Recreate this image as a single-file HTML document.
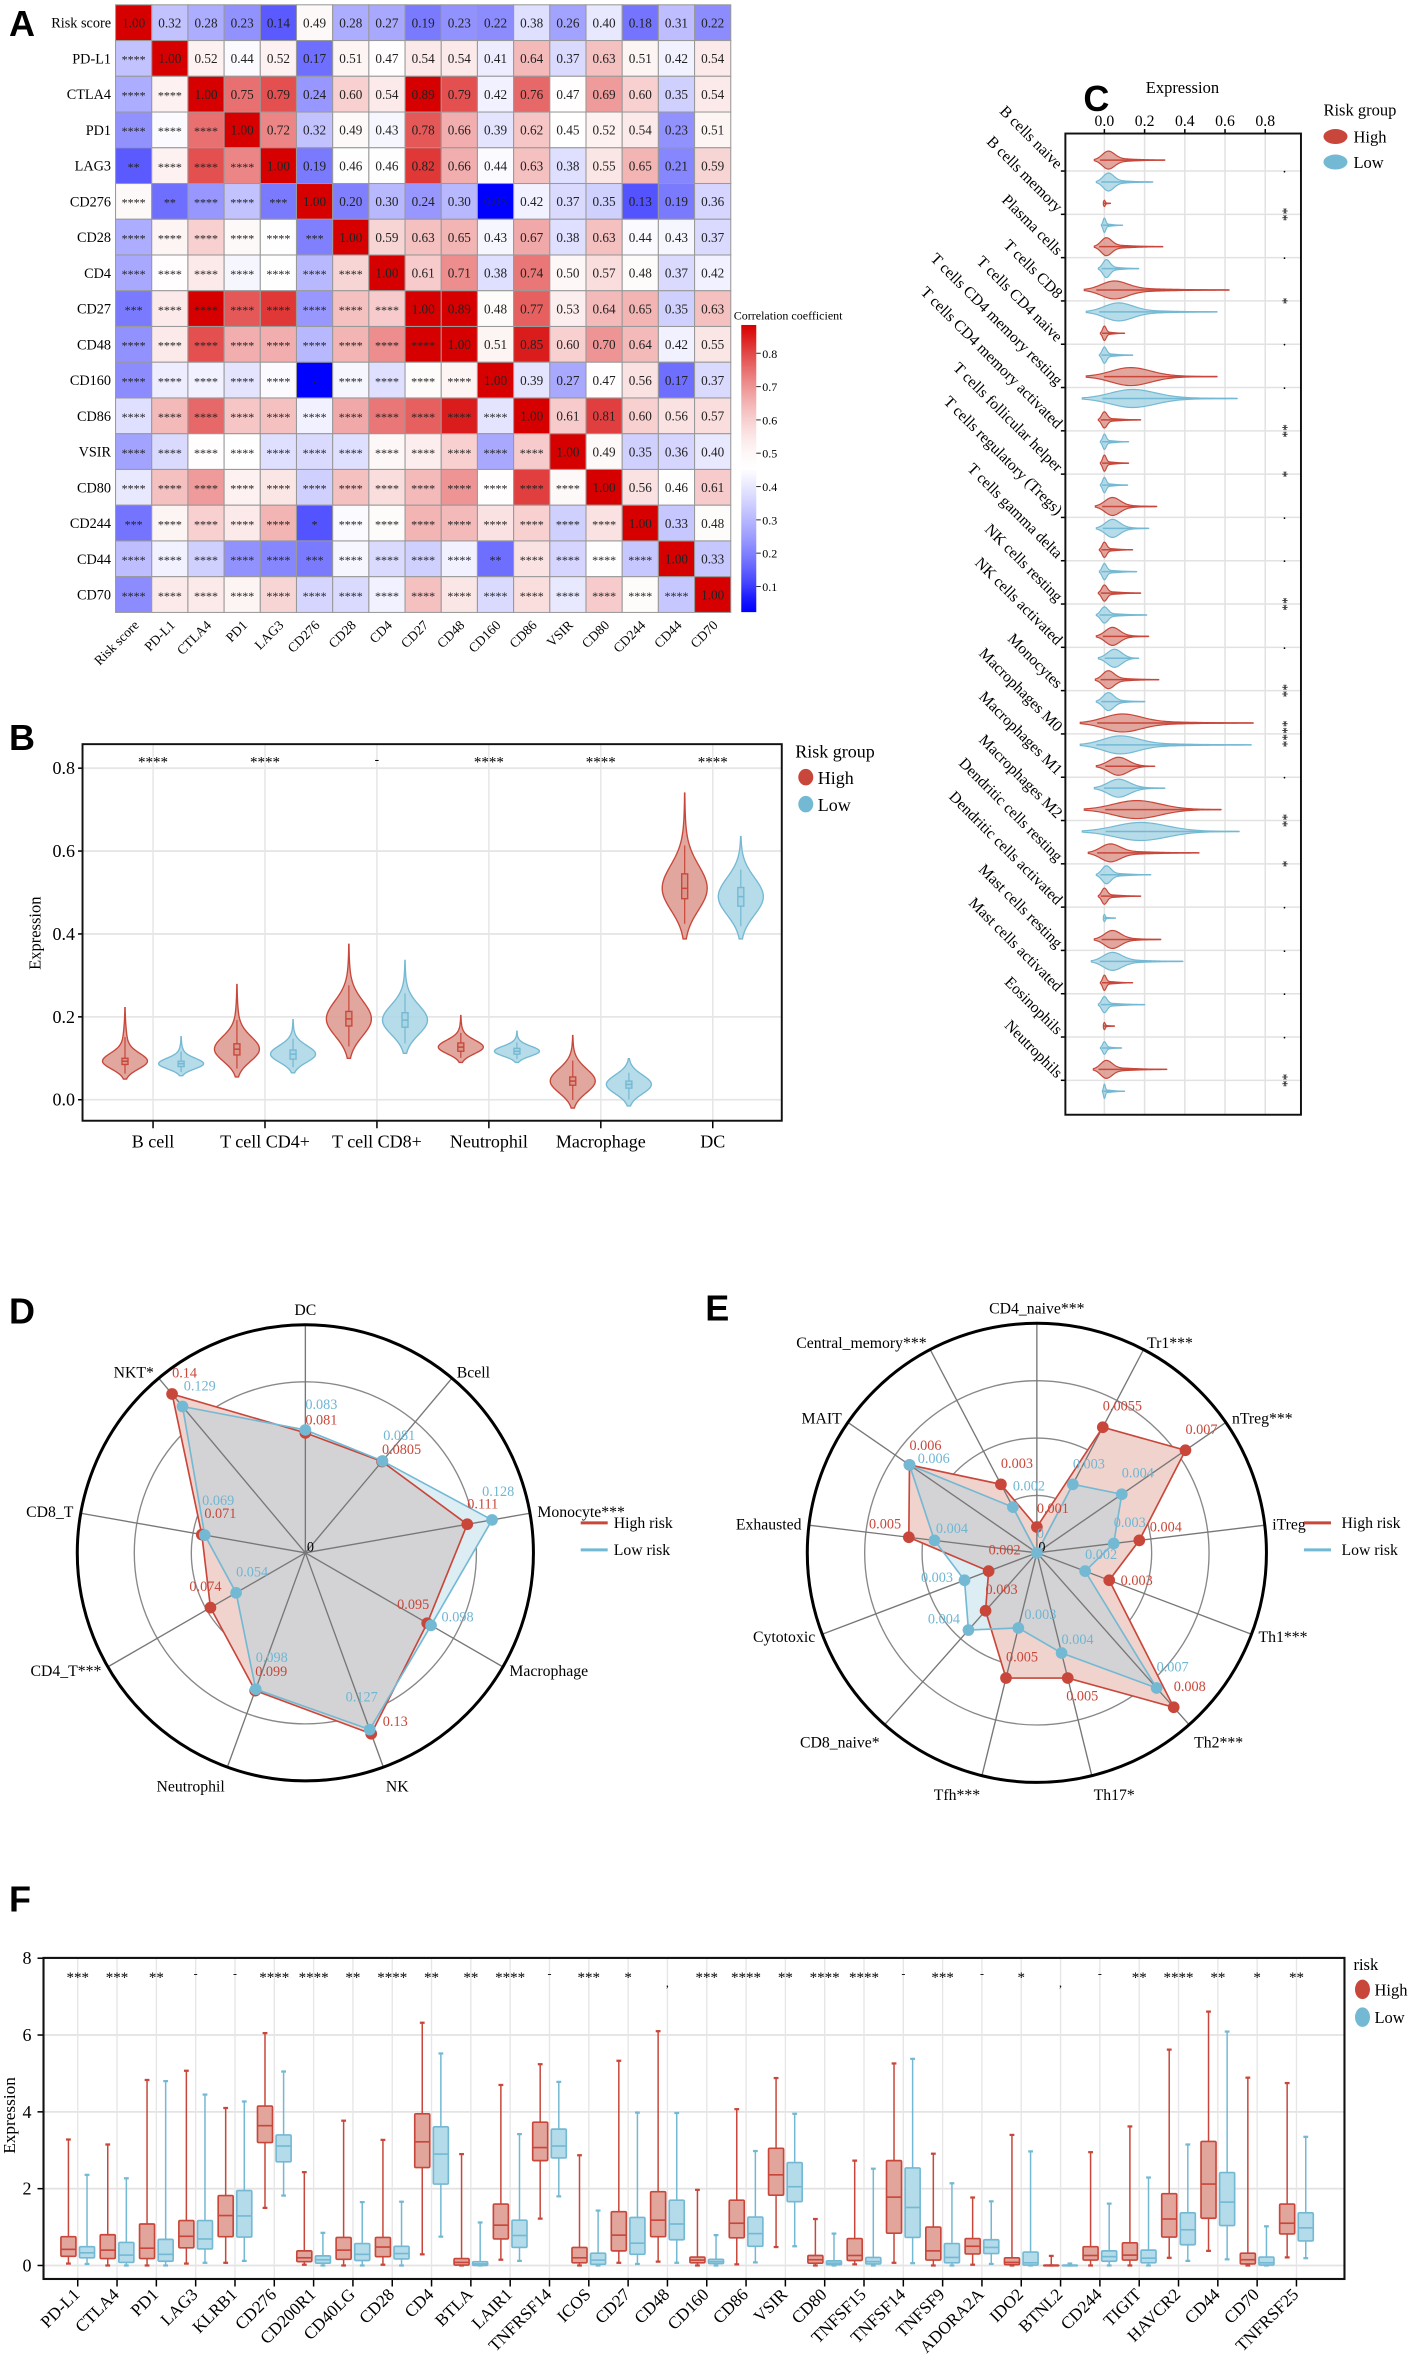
<!DOCTYPE html>
<html><head><meta charset="utf-8"><title>Immune figure</title>
<style>
html,body{margin:0;padding:0;background:#fff;}
svg{display:block;font-family:"Liberation Serif",serif;}
.pl{font-family:"Liberation Sans",sans-serif;font-weight:bold;font-size:24px;}
</style></head>
<body>
<svg id="fig" xmlns="http://www.w3.org/2000/svg" width="1418" height="2357" viewBox="0 0 945 1571" preserveAspectRatio="none">
<defs><linearGradient id="cbar" x1="0" y1="1" x2="0" y2="0"></linearGradient></defs>
</svg>
<script>
// ---------- DATA ----------
const hmLabels=['Risk score','PD-L1','CTLA4','PD1','LAG3','CD276','CD28','CD4','CD27','CD48','CD160','CD86','VSIR','CD80','CD244','CD44','CD70'];
const hmUpper=[
[1.00,0.32,0.28,0.23,0.14,0.49,0.28,0.27,0.19,0.23,0.22,0.38,0.26,0.40,0.18,0.31,0.22],
[1.00,0.52,0.44,0.52,0.17,0.51,0.47,0.54,0.54,0.41,0.64,0.37,0.63,0.51,0.42,0.54],
[1.00,0.75,0.79,0.24,0.60,0.54,0.89,0.79,0.42,0.76,0.47,0.69,0.60,0.35,0.54],
[1.00,0.72,0.32,0.49,0.43,0.78,0.66,0.39,0.62,0.45,0.52,0.54,0.23,0.51],
[1.00,0.19,0.46,0.46,0.82,0.66,0.44,0.63,0.38,0.55,0.65,0.21,0.59],
[1.00,0.20,0.30,0.24,0.30,0.05,0.42,0.37,0.35,0.13,0.19,0.36],
[1.00,0.59,0.63,0.65,0.43,0.67,0.38,0.63,0.44,0.43,0.37],
[1.00,0.61,0.71,0.38,0.74,0.50,0.57,0.48,0.37,0.42],
[1.00,0.89,0.48,0.77,0.53,0.64,0.65,0.35,0.63],
[1.00,0.51,0.85,0.60,0.70,0.64,0.42,0.55],
[1.00,0.39,0.27,0.47,0.56,0.17,0.37],
[1.00,0.61,0.81,0.60,0.56,0.57],
[1.00,0.49,0.35,0.36,0.40],
[1.00,0.56,0.46,0.61],
[1.00,0.33,0.48],
[1.00,0.33],
[1.00]];
const hmStarExceptions=[[4,0,'**'],[5,1,'**'],[5,4,'***'],[6,5,'***'],[8,0,'***'],[10,5,'-'],[14,0,'***'],[14,5,'*'],[15,5,'***'],[15,10,'**']];
const cbTicks=[0.1,0.2,0.3,0.4,0.5,0.6,0.7,0.8];

const bCats=['B cell','T cell CD4+','T cell CD8+','Neutrophil','Macrophage','DC'];
const bSig=['****','****','-','****','****','****'];
const bHighMed=[0.093,0.122,0.195,0.127,0.045,0.51];
const bHighQ1=[0.085,0.108,0.178,0.117,0.035,0.485];
const bHighQ3=[0.100,0.135,0.213,0.137,0.055,0.545];
const bHighLo=[0.05,0.055,0.10,0.09,-0.02,0.388];
const bHighHi=[0.222,0.278,0.375,0.203,0.155,0.74];
const bLowMed=[0.087,0.11,0.192,0.117,0.037,0.49];
const bLowQ1=[0.08,0.098,0.175,0.11,0.028,0.467];
const bLowQ3=[0.093,0.12,0.21,0.124,0.045,0.512];
const bLowLo=[0.058,0.065,0.112,0.09,-0.015,0.388];
const bLowHi=[0.152,0.193,0.336,0.165,0.099,0.635];
const bTicks=[0.0,0.2,0.4,0.6,0.8];

const cCats=['B cells naive','B cells memory','Plasma cells','T cells CD8','T cells CD4 naive','T cells CD4 memory resting','T cells CD4 memory activated','T cells follicular helper','T cells regulatory (Tregs)','T cells gamma delta','NK cells resting','NK cells activated','Monocytes','Macrophages M0','Macrophages M1','Macrophages M2','Dendritic cells resting','Dendritic cells activated','Mast cells resting','Mast cells activated','Eosinophils','Neutrophils'];
const cSig=['.','**','.','*','.','.','**','*','.','.','**','.','**','****','.','**','*','.','.','.','.','**'];
const cHighLo=[-0.05,-0.005,-0.05,-0.10,-0.02,-0.09,-0.03,-0.02,-0.045,-0.025,-0.03,-0.04,-0.045,-0.12,-0.04,-0.10,-0.08,-0.03,-0.05,-0.02,-0.005,-0.055];
const cHighHi=[0.30,0.03,0.29,0.62,0.10,0.56,0.18,0.12,0.26,0.14,0.18,0.22,0.27,0.74,0.25,0.58,0.47,0.18,0.28,0.14,0.05,0.31];
const cHighMode=[0.02,0.0,0.01,0.05,0.0,0.13,0.0,0.0,0.04,0.0,0.0,0.04,0.02,0.09,0.07,0.16,0.03,0.0,0.04,0.0,0.0,0.01];
const cLowLo=[-0.04,-0.015,-0.03,-0.09,-0.025,-0.11,-0.02,-0.02,-0.04,-0.025,-0.04,-0.03,-0.04,-0.12,-0.05,-0.11,-0.04,-0.005,-0.065,-0.03,-0.02,-0.01];
const cLowHi=[0.24,0.09,0.17,0.56,0.14,0.66,0.12,0.115,0.22,0.16,0.21,0.17,0.20,0.73,0.30,0.67,0.23,0.055,0.39,0.20,0.085,0.10];
const cLowMode=[0.02,0.0,0.01,0.07,0.0,0.14,0.0,0.0,0.04,0.0,0.0,0.05,0.02,0.08,0.07,0.18,0.01,0.0,0.04,0.0,0.0,0.0];
const cHighDens=[1,0.35,1,1,0.8,1,0.9,0.9,1,0.85,0.9,1,1,1,1,1,1,0.9,1,0.85,0.4,1];
const cLowDens=[1,0.8,1,1,0.9,1,0.85,0.85,1,0.9,0.9,1,1,1,1,1,1,0.4,1,0.9,0.7,0.8];
const cTicks=[0.0,0.2,0.4,0.6,0.8];

const dAxes=['DC','Bcell','Monocyte***','Macrophage','NK','Neutrophil','CD4_T***','CD8_T','NKT*'];
const dHigh=[0.081,0.0805,0.111,0.095,0.13,0.099,0.074,0.071,0.14];
const dLow=[0.083,0.081,0.128,0.098,0.127,0.098,0.054,0.069,0.129];
const dMax=0.154;
const eAxes=['CD4_naive***','Tr1***','nTreg***','iTreg','Th1***','Th2***','Th17*','Tfh***','CD8_naive*','Cytotoxic','Exhausted','MAIT','Central_memory***'];
const eHigh=[0.001,0.0055,0.007,0.004,0.003,0.008,0.005,0.005,0.003,0.002,0.005,0.006,0.003];
const eLow=[0,0.003,0.004,0.003,0.002,0.007,0.004,0.003,0.004,0.003,0.004,0.006,0.002];
const eMax=0.0089;

const fCats=['PD-L1','CTLA4','PD1','LAG3','KLRB1','CD276','CD200R1','CD40LG','CD28','CD4','BTLA','LAIR1','TNFRSF14','ICOS','CD27','CD48','CD160','CD86','VSIR','CD80','TNFSF15','TNFSF14','TNFSF9','ADORA2A','IDO2','BTNL2','CD244','TIGIT','HAVCR2','CD44','CD70','TNFRSF25'];
const fSig=['***','***','**','-','-','****','****','**','****','**','**','****','-','***','*',',','***','****','**','****','****','-','***','-','*',',','-','**','****','**','*','**'];
const fHighHi=[3.28,3.15,4.83,5.07,4.10,6.05,2.43,3.77,3.27,6.32,2.90,4.70,5.24,2.87,5.33,6.10,1.97,4.07,4.88,1.21,2.73,5.26,2.91,1.77,3.40,0.25,2.95,3.62,5.62,6.61,4.89,4.75];
const fHighQ3=[0.75,0.80,1.08,1.17,1.82,4.15,0.38,0.73,0.73,3.95,0.18,1.60,3.73,0.47,1.40,1.92,0.22,1.70,3.05,0.26,0.70,2.73,1.00,0.70,0.20,0.01,0.49,0.59,1.87,3.23,0.32,1.60];
const fHighMed=[0.42,0.40,0.45,0.76,1.30,3.64,0.20,0.40,0.48,3.22,0.08,1.05,3.07,0.20,0.79,1.18,0.14,1.10,2.36,0.15,0.26,1.78,0.38,0.50,0.08,0.0,0.26,0.27,1.21,2.12,0.15,1.10];
const fHighQ1=[0.24,0.18,0.18,0.46,0.75,3.20,0.10,0.16,0.23,2.55,0.01,0.69,2.73,0.07,0.38,0.75,0.07,0.72,1.83,0.06,0.13,0.84,0.14,0.30,0.02,0.0,0.14,0.14,0.74,1.23,0.04,0.82];
const fHighLo=[0.05,0,0,0.05,0.07,1.50,0.02,0,0.02,0.29,0,0.15,1.22,0,0.07,0.10,0,0.03,0.48,0,0.03,0.07,0,0.02,0,0,0,0,0.20,0.38,0,0.21];
const fLowHi=[2.36,2.27,4.80,4.45,4.27,5.05,0.85,1.65,1.66,5.52,1.12,3.42,4.78,1.43,3.98,3.97,0.79,2.98,3.95,0.83,2.52,5.38,2.14,1.67,2.97,0.05,1.61,2.29,3.15,6.09,1.02,3.35];
const fLowQ3=[0.49,0.60,0.68,1.17,1.95,3.40,0.25,0.57,0.50,3.61,0.10,1.18,3.55,0.32,1.25,1.70,0.16,1.26,2.68,0.12,0.21,2.54,0.57,0.67,0.35,0.01,0.38,0.40,1.37,2.42,0.22,1.37];
const fLowMed=[0.33,0.27,0.29,0.69,1.29,3.11,0.15,0.29,0.31,2.90,0.04,0.78,3.11,0.14,0.58,1.08,0.10,0.83,2.05,0.06,0.10,1.51,0.21,0.47,0.07,0.0,0.23,0.19,0.93,1.65,0.07,0.98];
const fLowQ1=[0.20,0.08,0.11,0.43,0.74,2.70,0.06,0.13,0.17,2.12,0.0,0.47,2.80,0.03,0.29,0.67,0.05,0.50,1.66,0.02,0.04,0.73,0.07,0.31,0.01,0.0,0.11,0.07,0.54,1.04,0.01,0.64];
const fLowLo=[0.04,0,0,0.07,0.12,1.82,0,0,0,0.75,0,0.12,1.80,0,0.04,0.07,0,0.08,0.50,0,0,0.06,0,0.04,0,0,0,0,0.12,0.16,0,0.19];
const fTicks=[0,2,4,6,8];

// ---------- HELPERS ----------
const NS='http://www.w3.org/2000/svg';
const svg=document.getElementById('fig');
function add(p,tag,a,txt){const e=document.createElementNS(NS,tag);for(const k in a)e.setAttribute(k,a[k]);if(txt!==undefined)e.textContent=txt;p.appendChild(e);return e;}
const RED='#c8473a',BLUE='#74b9d4',RFILL='#dc968c',BFILL='#a9d5e5';
function grp(name){const g=add(svg,'g',{});return g;}
function corColor(v){
  if(v<=0.45){let t=Math.max(0,Math.min(1,(v-0.05)/0.4));t=Math.pow(t,0.7);const c=Math.round(255*t);return `rgb(${c},${c},255)`;}
  let t=Math.min(1,(v-0.45)/0.43);t=Math.pow(t,1.6);const r=Math.round(255-40*t),gb=Math.round(255*(1-t));return `rgb(${r},${gb},${gb})`;
}
function profile(v,lo,hi,mode){
  const sc=Math.max(0.004,(mode-lo)/2.3);
  const core=Math.exp(-0.5*Math.pow((v-mode)/sc,2));
  const st=Math.max(0.004,(hi-mode)/2.6);
  const tail=v>mode?Math.exp(-0.5*Math.pow((v-mode)/st,2)):Math.exp(-0.5*Math.pow((v-mode)/sc,2));
  return 0.82*core+0.18*tail;
}

// ---------- PANEL A ----------
const gA=grp('panel-a-heatmap');
let t=add(gA,'text',{x:6,y:24,class:'pl'},'A');
const N=hmLabels.length, hx0=77, hy0=3.2, cw=410/N, ch=405/N;
const M=[];for(let i=0;i<N;i++){M.push([]);for(let j=0;j<N;j++){M[i].push(i<=j?hmUpper[i][j-i]:hmUpper[j][i-j]);}}
const stars=[];for(let i=0;i<N;i++){stars.push([]);for(let j=0;j<i;j++)stars[i].push('****');}
hmStarExceptions.forEach(e=>{stars[e[0]][e[1]]=e[2];});
for(let i=0;i<N;i++){
  const rl=add(gA,'text',{x:hx0-3,y:hy0+ch*(i+0.5)+3.3,'text-anchor':'end','font-size':9.5},hmLabels[i]);
  
  for(let j=0;j<N;j++){
    const r=add(gA,'rect',{x:hx0+cw*j,y:hy0+ch*i,width:cw,height:ch,fill:corColor(M[i][j]),stroke:'#999','stroke-width':0.7});
    
    const lab=j>=i?M[i][j].toFixed(2):stars[i][j];
    const tx=add(gA,'text',{x:hx0+cw*(j+0.5),y:hy0+ch*(i+0.5)+(j>=i?3.2:3.5),'text-anchor':'middle','font-size':j>=i?8.8:8,fill:'#222'},lab);
    
  }
  const cl=add(gA,'text',{x:0,y:0,'text-anchor':'end','font-size':9,transform:`translate(${hx0+cw*(i+0.5)+4},${hy0+ch*N+9}) rotate(-45)`},hmLabels[i]);
  
}
const cbTop=216.6,cbBot=408,cbx=494,cbV0=0.023,cbV1=0.885;
const grad=document.getElementById('cbar');
for(let k=0;k<=20;k++){const v=cbV0+(cbV1-cbV0)*k/20;add(grad,'stop',{offset:(k/20),'stop-color':corColor(v)});}
const cb=add(gA,'rect',{x:cbx,y:cbTop,width:10,height:cbBot-cbTop,fill:'url(#cbar)'});

const cbt=add(gA,'text',{x:489,y:213,'font-size':8},'Correlation coefficient');

function cbY(v){return cbBot-(v-cbV0)/(cbV1-cbV0)*(cbBot-cbTop);}
cbTicks.forEach(v=>{
  const l=add(gA,'line',{x1:cbx+10,x2:cbx+13,y1:cbY(v),y2:cbY(v),stroke:'#333','stroke-width':0.7});
  
  const tt=add(gA,'text',{x:cbx+14,y:cbY(v)+3,'font-size':8},v.toFixed(1));
  
});

// ---------- PANEL B ----------
const gB=grp('panel-b-violin');
t=add(gB,'text',{x:6,y:500,class:'pl'},'B');
const bx0=55,bx1=521,byT=496,byB=747;
const bY=v=>733-v*276.25;
const bX=i=>102+i*74.6;
bTicks.forEach(v=>{
  const g=add(gB,'line',{x1:bx0,x2:bx1,y1:bY(v),y2:bY(v),stroke:'#e6e6e6','stroke-width':1.2});
  
  const tt=add(gB,'text',{x:50,y:bY(v)+4,'text-anchor':'end','font-size':12},v.toFixed(1));
  
  const tk=add(gB,'line',{x1:bx0-3,x2:bx0,y1:bY(v),y2:bY(v),stroke:'#000'});
  
});
function vViolin(g,cx,lo,hi,mode,q1,q3,med,W,fill,stroke){
  const n=60,pts=[];for(let k=0;k<=n;k++){const v=lo+(hi-lo)*k/n;pts.push([v,W*profile(v,lo,hi,mode)]);}
  let d='M'+cx+','+bY(lo);pts.forEach(p=>{d+=' L'+(cx+p[1]).toFixed(2)+','+bY(p[0]).toFixed(2);});
  for(let k=pts.length-1;k>=0;k--){d+=' L'+(cx-pts[k][1]).toFixed(2)+','+bY(pts[k][0]).toFixed(2);}d+='Z';
  const p=add(g,'path',{d:d,fill:fill,'fill-opacity':0.85,stroke:stroke,'stroke-width':0.9});
  
  const l=add(g,'line',{x1:cx,x2:cx,y1:bY(lo+(mode-lo)*0.3),y2:bY(mode+(hi-mode)*0.45),stroke:stroke,'stroke-width':0.8});
  
  const b=add(g,'rect',{x:cx-2,y:bY(q3),width:4,height:bY(q1)-bY(q3),fill:fill,stroke:stroke,'stroke-width':0.9});
  
  const m=add(g,'line',{x1:cx-2,x2:cx+2,y1:bY(med),y2:bY(med),stroke:stroke,'stroke-width':1});
  
}
bCats.forEach((c,i)=>{
  const vg=add(gB,'line',{x1:bX(i),x2:bX(i),y1:byT,y2:byB,stroke:'#e6e6e6','stroke-width':1});
  
  vViolin(gB,bX(i)-18.7,bHighLo[i],bHighHi[i],bHighMed[i],bHighQ1[i],bHighQ3[i],bHighMed[i],15,RFILL,RED);
  vViolin(gB,bX(i)+18.7,bLowLo[i],bLowHi[i],bLowMed[i],bLowQ1[i],bLowQ3[i],bLowMed[i],15,BFILL,BLUE);
  const s=add(gB,'text',{x:bX(i),y:bY(0.8)+(bSig[i]=='-'?-3:-1),'text-anchor':'middle','font-size':bSig[i]=='-'?9:10},bSig[i]);
  
  const tk=add(gB,'line',{x1:bX(i),x2:bX(i),y1:byB,y2:byB+5,stroke:'#000'});
  
  const xl=add(gB,'text',{x:bX(i),y:765,'text-anchor':'middle','font-size':12},c);
  
});
let fr=add(gB,'rect',{x:bx0,y:byT,width:bx1-bx0,height:byB-byT,fill:'none',stroke:'#111','stroke-width':1.3});

t=add(gB,'text',{x:0,y:0,'text-anchor':'middle','font-size':11,transform:'translate(27,622) rotate(-90)'},'Expression');

t=add(gB,'text',{x:530,y:505,'font-size':12},'Risk group');
[['High',RED,518],['Low',BLUE,536]].forEach(e=>{
  const c=add(gB,'ellipse',{cx:537,cy:e[2],rx:5,ry:5.5,fill:e[1]});
  const tt=add(gB,'text',{x:545,y:e[2]+4.5,'font-size':12},e[0]);
});

// ---------- PANEL C ----------
const gC=grp('panel-c-violin');
t=add(gC,'text',{x:722,y:74,class:'pl'},'C');
const cx0=710,cx1=867,cyT=89,cyB=743;
const cX=v=>736+v*134;
const cY=i=>114+i*28.86;
cTicks.forEach(v=>{
  const g=add(gC,'line',{x1:cX(v),x2:cX(v),y1:cyT,y2:cyB,stroke:'#e2e2e2','stroke-width':1});
  
  const tt=add(gC,'text',{x:cX(v),y:cyT-5,'text-anchor':'middle','font-size':10.5},v.toFixed(1));
  
  const tk=add(gC,'line',{x1:cX(v),x2:cX(v),y1:cyT-3,y2:cyT,stroke:'#000'});
  
});
t=add(gC,'text',{x:788,y:62,'text-anchor':'middle','font-size':11},'Expression');
function hViolin(g,cy,lo,hi,mode,H,fill,stroke){
  const n=60,pts=[];for(let k=0;k<=n;k++){const v=lo+(hi-lo)*k/n;pts.push([v,H*profile(v,lo,hi,mode)]);}
  let d='M'+cX(lo)+','+cy;pts.forEach(p=>{d+=' L'+cX(p[0]).toFixed(2)+','+(cy-p[1]).toFixed(2);});
  for(let k=pts.length-1;k>=0;k--){d+=' L'+cX(pts[k][0]).toFixed(2)+','+(cy+pts[k][1]).toFixed(2);}d+='Z';
  const p=add(g,'path',{d:d,fill:fill,'fill-opacity':0.85,stroke:stroke,'stroke-width':0.8});
  
  const l=add(g,'line',{x1:cX(lo+(mode-lo)*0.4),x2:cX(hi),y1:cy,y2:cy,stroke:stroke,'stroke-width':1});
  
}
cCats.forEach((c,i)=>{
  const y=cY(i);
  const g=add(gC,'line',{x1:cx0,x2:cx1,y1:y,y2:y,stroke:'#e2e2e2','stroke-width':1});
  
  hViolin(gC,y-7.3,cHighLo[i],cHighHi[i],cHighMode[i],6*cHighDens[i],RFILL,RED);
  hViolin(gC,y+7.3,cLowLo[i],cLowHi[i],cLowMode[i],6*cLowDens[i],BFILL,BLUE);
  const tk=add(gC,'line',{x1:cx0-3,x2:cx0,y1:y,y2:y,stroke:'#000'});
  
  const lab=add(gC,'text',{x:0,y:0,'text-anchor':'end','font-size':10.5,transform:`translate(704,${y-1}) rotate(45)`},c);
  
  const s=cSig[i];
  const st=add(gC,'text',{x:856,y:s=='.'?y+1:y+4,'text-anchor':'middle','font-size':s=='.'?10:9,transform:s=='.'?'':`rotate(90 856 ${y})`},s);
  
});
fr=add(gC,'rect',{x:cx0,y:cyT,width:cx1-cx0,height:cyB-cyT,fill:'none',stroke:'#111','stroke-width':1.3});

t=add(gC,'text',{x:882,y:77,'font-size':11},'Risk group');
[['High',RED,91],['Low',BLUE,108]].forEach(e=>{
  const c=add(gC,'ellipse',{cx:890,cy:e[2],rx:8,ry:5,fill:e[1]});
  const tt=add(gC,'text',{x:902,y:e[2]+4,'font-size':11},e[0]);
});

// ---------- RADAR ----------
function radar(name,cxr,cyr,R,axes,high,low,vmax,offH,offL,clipId){
  const g=grp(name);
  const n=axes.length;
  const ang=i=>i*2*Math.PI/n;
  const pt=(i,v)=>[cxr+Math.sin(ang(i))*R*v/vmax,cyr-Math.cos(ang(i))*R*v/vmax];
  [0.25,0.5,0.75].forEach(f=>{const c=add(g,'circle',{cx:cxr,cy:cyr,r:R*f,fill:'none',stroke:'#888','stroke-width':0.9});});
  const hp=high.map((v,i)=>pt(i,v)),lp=low.map((v,i)=>pt(i,v));
  const ps=a=>a.map(p=>p[0].toFixed(2)+','+p[1].toFixed(2)).join(' ');
  let e=add(g,'polygon',{points:ps(hp),fill:'#f1d3ce'});
  e=add(g,'polygon',{points:ps(lp),fill:'#dcedf4'});
  const cp=add(svg.querySelector('defs'),'clipPath',{id:clipId});add(cp,'polygon',{points:ps(hp)});
  e=add(g,'polygon',{points:ps(lp),fill:'#d3d3d5','clip-path':`url(#${clipId})`});
  axes.forEach((a,i)=>{
    const q=pt(i,vmax);
    const l=add(g,'line',{x1:cxr,y1:cyr,x2:q[0],y2:q[1],stroke:'#777','stroke-width':0.9});
    
  });
  e=add(g,'polygon',{points:ps(hp),fill:'none',stroke:RED,'stroke-width':1.1});
  e=add(g,'polygon',{points:ps(lp),fill:'none',stroke:BLUE,'stroke-width':1.1});
  e=add(g,'circle',{cx:cxr,cy:cyr,r:R,fill:'none',stroke:'#000','stroke-width':2});
  e=add(g,'text',{x:cxr+1,y:cyr-1,'font-size':9.5},'0');
  hp.forEach((p,i)=>{const c=add(g,'circle',{cx:p[0],cy:p[1],r:3.9,fill:RED});});
  lp.forEach((p,i)=>{const c=add(g,'circle',{cx:p[0],cy:p[1],r:3.9,fill:BLUE});});
  hp.forEach((p,i)=>{const tt=add(g,'text',{x:p[0]+offH[i][0],y:p[1]+offH[i][1]+3,'font-size':9.5,fill:'#c8473a'},String(high[i]));});
  lp.forEach((p,i)=>{const tt=add(g,'text',{x:p[0]+offL[i][0],y:p[1]+offL[i][1]+3,'font-size':9.5,fill:'#6fb6d3'},String(low[i]));});
  axes.forEach((a,i)=>{
    const s=Math.sin(ang(i)),c=Math.cos(ang(i));
    const rr=R+5;
    const x=cxr+s*rr,y=cyr-c*rr+3.5-(c>0.9?5:0)+(c<-0.6?8:0);
    const anc=s>0.15?'start':(s<-0.15?'end':'middle');
    const tt=add(g,'text',{x:x,y:y,'text-anchor':anc,'font-size':10.5},a);
    
  });
  return g;
}
const dOffH=[[0,-8.6],[0,-8],[0,-13.5],[-20,-12.4],[7.7,-8],[0,-12.7],[-14,-14],[1.7,-14],[0,-14]];
const dOffL=[[0,-17],[0.5,-17],[-6.6,-19],[7,-5.5],[-16,-21.6],[0,-21],[0,-14],[-1.7,-23],[0.8,-13.5]];
const gD=radar('panel-d-radar',203.5,1035,152,dAxes,dHigh,dLow,dMax,dOffH,dOffL,'clipD');
t=add(gD,'text',{x:6,y:882,class:'pl'},'D');
const eOffH=[[0,-12.5],[0,-14],[0,-14],[7,-9],[7.6,0],[0,-14],[-1,12],[0,-14],[0,-14],[0,-14],[-26.5,-9],[0,-13],[0,-14]];
const eOffL=[[0,-13],[0,-13.5],[0,-14],[0,-14],[0,-11],[0,-14],[0,-9],[4,-9],[-27,-7.5],[-29,-2],[1,-8],[5.5,-4.4],[0,-14]];
const gE=radar('panel-e-radar',691,1035,153,eAxes,eHigh,eLow,eMax,eOffH,eOffL,'clipE');
t=add(gE,'text',{x:470,y:880,class:'pl'},'E');
[[gD,387,409],[gE,869,894]].forEach(L=>{
  [['High risk',RED,1015],['Low risk',BLUE,1033]].forEach(e=>{
    const l=add(L[0],'line',{x1:L[1],x2:L[1]+18,y1:e[2],y2:e[2],stroke:e[1],'stroke-width':2});
    
    const tt=add(L[0],'text',{x:L[2],y:e[2]+3.5,'font-size':10.5},e[0]);
    
  });
});

// ---------- PANEL F ----------
const gF=grp('panel-f-boxplot');
t=add(gF,'text',{x:6,y:1274,class:'pl'},'F');
const fx0=29,fx1=896,fyT=1305,fyB=1519;
const fY=v=>1510-v*25.6;
const fX=i=>51.8+i*26.2;
fTicks.forEach(v=>{
  if(v<8){const g=add(gF,'line',{x1:fx0,x2:fx1,y1:fY(v),y2:fY(v),stroke:'#e3e3e3','stroke-width':1.2});}
  const tt=add(gF,'text',{x:21,y:fY(v)+4,'text-anchor':'end','font-size':12},String(v));
  
  const tk=add(gF,'line',{x1:fx0-4,x2:fx0,y1:fY(v),y2:fY(v),stroke:'#000'});
  
});
function boxp(g,cx,lo,q1,med,q3,hi,fill,stroke){
  let e=add(g,'line',{x1:cx,x2:cx,y1:fY(hi),y2:fY(lo),stroke:stroke,'stroke-width':1});
  e=add(g,'line',{x1:cx-1.6,x2:cx+1.6,y1:fY(hi),y2:fY(hi),stroke:stroke,'stroke-width':1.5});
  e=add(g,'line',{x1:cx-1.6,x2:cx+1.6,y1:fY(lo),y2:fY(lo),stroke:stroke,'stroke-width':1.5});
  e=add(g,'rect',{x:cx-5,y:fY(q3),width:10,height:Math.max(0.5,fY(q1)-fY(q3)),fill:fill,stroke:stroke,'stroke-width':1.1,rx:0.8});
  e=add(g,'line',{x1:cx-5,x2:cx+5,y1:fY(med),y2:fY(med),stroke:stroke,'stroke-width':1.1});
}
fCats.forEach((c,i)=>{
  const x=fX(i);
  const vg=add(gF,'line',{x1:x,x2:x,y1:fyT,y2:fyB,stroke:'#e6e6e6','stroke-width':0.9});
  
  boxp(gF,x-6.2,fHighLo[i],fHighQ1[i],fHighMed[i],fHighQ3[i],fHighHi[i],'#e2a59c',RED);
  boxp(gF,x+6.2,fLowLo[i],fLowQ1[i],fLowMed[i],fLowQ3[i],fLowHi[i],'#b4dbe9',BLUE);
  const s=fSig[i];
  const st=add(gF,'text',{x:x,y:s=='-'?1318:(s==','?1324:1321),'text-anchor':'middle','font-size':s=='-'||s==','?8:10},s);
  
  const tk=add(gF,'line',{x1:x,x2:x,y1:fyB,y2:fyB+5,stroke:'#000'});
  
  const xl=add(gF,'text',{x:0,y:0,'text-anchor':'end','font-size':11.5,transform:`translate(${x+2},${fyB+11}) rotate(-45)`},c);
  
});
fr=add(gF,'rect',{x:fx0,y:fyT,width:fx1-fx0,height:fyB-fyT,fill:'none',stroke:'#111','stroke-width':1.4});

t=add(gF,'text',{x:0,y:0,'text-anchor':'middle','font-size':11.5,transform:'translate(10,1410) rotate(-90)'},'Expression');

t=add(gF,'text',{x:902,y:1313,'font-size':11},'risk');
[['High',RED,1326],['Low',BLUE,1344.5]].forEach(e=>{
  const c=add(gF,'ellipse',{cx:908,cy:e[2],rx:5,ry:6.5,fill:e[1]});
  const tt=add(gF,'text',{x:916,y:e[2]+4,'font-size':11},e[0]);
});
</script>
</body></html>
